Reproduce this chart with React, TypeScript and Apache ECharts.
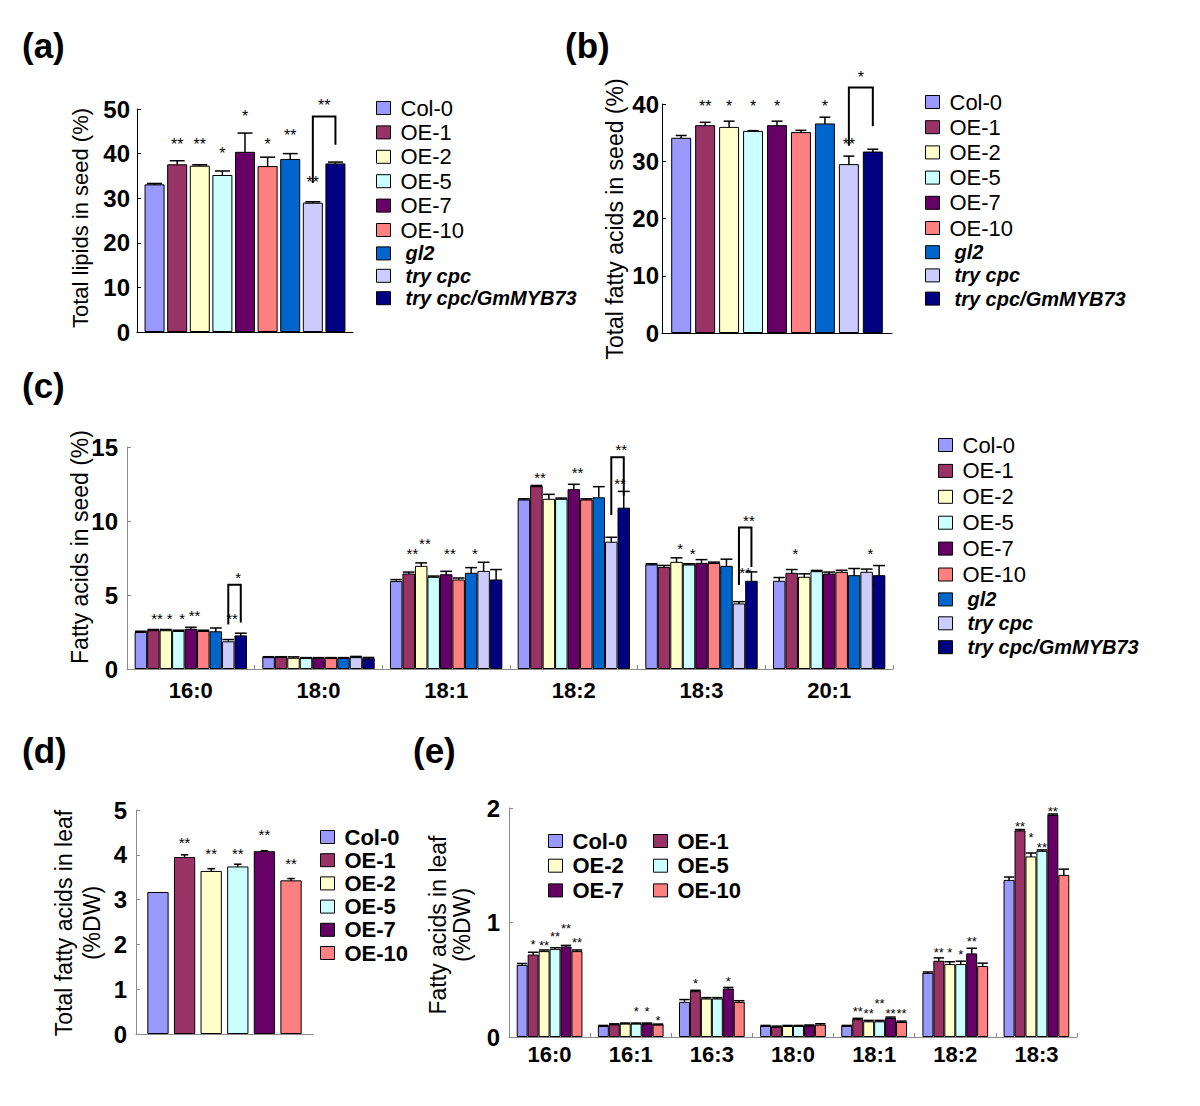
import React, { useEffect, useRef } from 'react';
import * as echarts from 'echarts';

// ---------- data ----------
const seedGenotypes = ['Col-0', 'OE-1', 'OE-2', 'OE-5', 'OE-7', 'OE-10', 'gl2', 'try cpc', 'try cpc/GmMYB73'];
const leafGenotypes = ['Col-0', 'OE-1', 'OE-2', 'OE-5', 'OE-7', 'OE-10'];
const genotypeColors = ['#9999FF', '#993366', '#FFFFCC', '#CCFFFF', '#660066', '#FF8080', '#0066CC', '#CCCCFF', '#000080'];
const italicNames = ['gl2', 'try cpc', 'try cpc/GmMYB73'];

// (a) total lipids in seed (%)
const lipidValues = [33.1, 37.6, 37.3, 35.2, 40.4, 37.2, 38.8, 29.0, 37.8];
const lipidErrors = [0.2, 0.8, 0.2, 0.9, 4.2, 2.0, 1.2, 0.2, 0.3];
// [seriesIndex, y, mark]
const lipidStars: [number, number, string][] = [[1, 42.9, '**'], [2, 42.9, '**'], [3, 40.9, '*'], [4, 49.3, '*'], [5, 42.9, '*'], [6, 45.0, '**'], [7, 34.5, '**'], [7.5, 51.7, '**']];
// [left series, right series, left bottom, top, right bottom]
const lipidBracket = [7, 8, 33.4, 48.3, 42.0];

// (b) total fatty acids in seed (%)
const seedFaTotal = [34.1, 36.3, 36.0, 35.3, 36.3, 35.1, 36.6, 29.5, 31.7];
const seedFaTotalErr = [0.4, 0.5, 1.0, 0.05, 0.7, 0.3, 1.1, 1.4, 0.4];
const seedFaTotalStars: [number, number, string][] = [[1, 40.3, '**'], [2, 40.3, '*'], [3, 40.3, '*'], [4, 40.3, '*'], [6, 40.3, '*'], [7, 33.6, '**'], [7.5, 45.4, '*']];
const seedFaTotalBracket = [7, 8, 32.7, 42.9, 36.1];

// (c) fatty acids in seed (%)
const seedFaCategories = ['16:0', '18:0', '18:1', '18:2', '18:3', '20:1'];
const seedFaCol0 = [2.5, 0.8, 5.94, 11.45, 7.06, 5.96];
const seedFaOE1 = [2.62, 0.8, 6.45, 12.35, 6.9, 6.5];
const seedFaOE2 = [2.62, 0.76, 6.97, 11.5, 7.24, 6.23];
const seedFaOE5 = [2.57, 0.74, 6.23, 11.5, 7.06, 6.61];
const seedFaOE7 = [2.72, 0.74, 6.4, 12.15, 7.17, 6.45];
const seedFaOE10 = [2.57, 0.74, 6.05, 11.45, 7.17, 6.57];
const seedFaGl2 = [2.55, 0.74, 6.5, 11.6, 6.97, 6.34];
const seedFaTryCpc = [1.87, 0.8, 6.63, 8.6, 4.43, 6.57];
const seedFaGmMYB73 = [2.27, 0.72, 6.05, 10.9, 5.96, 6.34];
const seedFaErrCol0 = [0.05, 0.03, 0.1, 0.05, 0.05, 0.22];
const seedFaErrOE1 = [0.05, 0.03, 0.1, 0.05, 0.1, 0.22];
const seedFaErrOE2 = [0.05, 0.06, 0.2, 0.3, 0.27, 0.2];
const seedFaErrOE5 = [0.05, 0.03, 0.05, 0.05, 0.05, 0.05];
const seedFaErrOE7 = [0.1, 0.03, 0.2, 0.33, 0.22, 0.1];
const seedFaErrOE10 = [0.05, 0.03, 0.1, 0.05, 0.05, 0.1];
const seedFaErrGl2 = [0.22, 0.03, 0.35, 0.72, 0.45, 0.45];
const seedFaErrTryCpc = [0.12, 0.05, 0.58, 0.3, 0.12, 0.18];
const seedFaErrGmMYB73 = [0.15, 0.06, 0.67, 1.1, 0.6, 0.65];
// [category, series, y, mark]
const seedFaStars: [number, number, number, string][] = [
  [0, 1, 3.64, '**'], [0, 2, 3.64, '*'], [0, 3, 3.64, '*'], [0, 4, 3.85, '**'], [0, 7, 3.64, '**'], [0, 7.5, 6.45, '*'],
  [2, 1, 8.07, '**'], [2, 2, 8.7, '**'], [2, 4, 8.07, '**'], [2, 6, 8.07, '*'],
  [3, 1, 13.2, '**'], [3, 4, 13.5, '**'], [3, 7.4, 12.8, '**'], [3, 7.5, 15.1, '**'],
  [4, 2, 8.37, '*'], [4, 3, 8.03, '*'], [4, 7.2, 6.8, '**'], [4, 7.5, 10.28, '**'],
  [5, 1, 8.07, '*'], [5, 7, 8.07, '*'],
];
// [category, left series, right series, left bottom, top, right bottom]
const seedFaBrackets = [
  [0, 7, 8, 3.0, 5.7, 3.15],
  [3, 7, 8, 10.4, 14.3, 11.7],
  [4, 7, 8, 5.67, 9.56, 6.9],
];

// (d) total fatty acids in leaf (%DW)
const leafTotal = [3.17, 3.95, 3.64, 3.74, 4.08, 3.43];
const leafTotalErr = [0, 0.05, 0.05, 0.05, 0.01, 0.04];
const leafTotalStars: [number, number, string][] = [[1, 4.35, '**'], [2, 4.12, '**'], [3, 4.12, '**'], [4, 4.54, '**'], [5, 3.9, '**']];

// (e) fatty acids in leaf (%DW)
const leafFaCategories = ['16:0', '16:1', '16:3', '18:0', '18:1', '18:2', '18:3'];
const leafFaCol0 = [0.63, 0.096, 0.307, 0.096, 0.096, 0.56, 1.372];
const leafFaOE1 = [0.72, 0.11, 0.40, 0.09, 0.155, 0.666, 1.804];
const leafFaOE2 = [0.75, 0.117, 0.336, 0.096, 0.137, 0.637, 1.577];
const leafFaOE5 = [0.77, 0.117, 0.336, 0.096, 0.137, 0.637, 1.626];
const leafFaOE7 = [0.79, 0.117, 0.423, 0.10, 0.166, 0.73, 1.94];
const leafFaOE10 = [0.75, 0.108, 0.307, 0.108, 0.131, 0.62, 1.416];
const leafFaErrCol0 = [0.012, 0.005, 0.02, 0.005, 0.005, 0.008, 0.025];
const leafFaErrOE1 = [0.02, 0.005, 0.008, 0.005, 0.008, 0.025, 0.008];
const leafFaErrOE2 = [0.01, 0.005, 0.008, 0.005, 0.008, 0.02, 0.03];
const leafFaErrOE5 = [0.01, 0.005, 0.008, 0.005, 0.008, 0.025, 0.008];
const leafFaErrOE7 = [0.01, 0.005, 0.01, 0.005, 0.008, 0.045, 0.008];
const leafFaErrOE10 = [0.01, 0.005, 0.01, 0.008, 0.008, 0.025, 0.05];
const leafFaStars: [number, number, number, string][] = [
  [0, 1, 0.84, '*'], [0, 2, 0.83, '**'], [0, 3, 0.905, '**'], [0, 4, 0.98, '**'], [0, 5, 0.85, '**'],
  [1, 3, 0.25, '*'], [1, 4, 0.25, '*'], [1, 5, 0.17, '*'],
  [2, 1, 0.5, '*'], [2, 4, 0.51, '*'],
  [4, 1, 0.25, '**'], [4, 2, 0.23, '**'], [4, 3, 0.32, '**'], [4, 4, 0.23, '**'], [4, 5, 0.23, '**'],
  [5, 1, 0.77, '**'], [5, 2, 0.77, '*'], [5, 3, 0.75, '*'], [5, 4, 0.86, '**'],
  [6, 1, 1.87, '**'], [6, 2, 1.77, '*'], [6, 3, 1.68, '**'], [6, 4, 2.0, '**'],
];

const seedFaRows = [seedFaCol0, seedFaOE1, seedFaOE2, seedFaOE5, seedFaOE7, seedFaOE10, seedFaGl2, seedFaTryCpc, seedFaGmMYB73];
const seedFaErrRows = [seedFaErrCol0, seedFaErrOE1, seedFaErrOE2, seedFaErrOE5, seedFaErrOE7, seedFaErrOE10, seedFaErrGl2, seedFaErrTryCpc, seedFaErrGmMYB73];
const leafFaRows = [leafFaCol0, leafFaOE1, leafFaOE2, leafFaOE5, leafFaOE7, leafFaOE10];
const leafFaErrRows = [leafFaErrCol0, leafFaErrOE1, leafFaErrOE2, leafFaErrOE5, leafFaErrOE7, leafFaErrOE10];

// ---------- styling ----------
const NARROW = "'Liberation Sans', Arial, sans-serif";
const SANS = "'Liberation Sans', Arial, sans-serif";

type PanelCfg = { idx: number; n: number; catGap: number; barGap: number; cap: number; starSize: number; starShift: number; bracketW: number };

const barX = (cx: number, band: number, cfg: PanelCfg, i: number) => {
  const usable = band * (1 - cfg.catGap);
  const w = usable / (cfg.n + (cfg.n - 1) * cfg.barGap);
  return { x: cx - usable / 2 + i * w * (1 + cfg.barGap) + w / 2, w };
};

function barSeries(cfg: PanelCfg, names: string[], rows: number[][]) {
  return names.map((name, i) => ({
    type: 'bar',
    name,
    xAxisIndex: cfg.idx,
    yAxisIndex: cfg.idx,
    data: rows[i],
    barGap: `${cfg.barGap * 100}%`,
    barCategoryGap: `${cfg.catGap * 100}%`,
    itemStyle: { color: genotypeColors[i], borderColor: '#000', borderWidth: 1 },
    emphasis: { disabled: true },
    silent: true,
  }));
}

function errorSeries(cfg: PanelCfg, rows: number[][], errs: number[][]) {
  const data: number[][] = [];
  rows.forEach((row, i) => row.forEach((v, c) => {
    const e = errs[i][c];
    if (e > 0) data.push([c, i, v - e, v + e]);
  }));
  return {
    type: 'custom',
    xAxisIndex: cfg.idx,
    yAxisIndex: cfg.idx,
    clip: false,
    silent: true,
    encode: { x: 0, y: [2, 3] },
    data,
    renderItem: (params: any, api: any) => {
      const c = api.value(0), i = api.value(1);
      const lo = api.coord([c, api.value(2)]);
      const hi = api.coord([c, api.value(3)]);
      const band = api.size([1, 0])[0];
      const { x, w } = barX(lo[0], band, cfg, i);
      const h = (w * cfg.cap) / 2;
      const st = { stroke: '#000', lineWidth: 1.5 };
      return {
        type: 'group',
        children: [
          { type: 'line', shape: { x1: x, y1: lo[1], x2: x, y2: hi[1] }, style: st },
          { type: 'line', shape: { x1: x - h, y1: hi[1], x2: x + h, y2: hi[1] }, style: st },
          { type: 'line', shape: { x1: x - h, y1: lo[1], x2: x + h, y2: lo[1] }, style: st },
        ],
      };
    },
  };
}

function starSeries(cfg: PanelCfg, stars: [number, number, number, string][]) {
  return {
    type: 'custom',
    xAxisIndex: cfg.idx,
    yAxisIndex: cfg.idx,
    clip: false,
    silent: true,
    encode: { x: 0, y: 2 },
    data: stars.map((s) => [s[0], s[1], s[2]]),
    renderItem: (params: any, api: any) => {
      const c = api.value(0), i = api.value(1);
      const p = api.coord([c, api.value(2)]);
      const band = api.size([1, 0])[0];
      const { x, w } = barX(p[0], band, cfg, i);
      return {
        type: 'text',
        x: x + cfg.starShift * w,
        y: p[1] + cfg.starSize * 0.25,
        style: {
          text: stars[params.dataIndex][3],
          fill: '#000',
          fontSize: cfg.starSize,
          fontFamily: SANS,
          align: 'center',
          verticalAlign: 'middle',
        },
      };
    },
  };
}

function bracketSeries(cfg: PanelCfg, brackets: number[][]) {
  return {
    type: 'custom',
    xAxisIndex: cfg.idx,
    yAxisIndex: cfg.idx,
    clip: false,
    silent: true,
    encode: { x: 0, y: 4 },
    data: brackets,
    renderItem: (params: any, api: any) => {
      const c = api.value(0);
      const band = api.size([1, 0])[0];
      const pl = api.coord([c, api.value(3)]);
      const pt = api.coord([c, api.value(4)]);
      const pr = api.coord([c, api.value(5)]);
      const xl = barX(pl[0], band, cfg, api.value(1)).x;
      const xr = barX(pl[0], band, cfg, api.value(2)).x;
      return {
        type: 'polyline',
        shape: { points: [[xl, pl[1]], [xl, pt[1]], [xr, pt[1]], [xr, pr[1]]] },
        style: { stroke: '#000', lineWidth: cfg.bracketW, fill: 'none' },
      };
    },
  };
}

const cfgA: PanelCfg = { idx: 0, n: 9, catGap: 0.07, barGap: 0.13, cap: 0.75, starSize: 16, starShift: 0, bracketW: 2 };
const cfgB: PanelCfg = { idx: 1, n: 9, catGap: 0.08, barGap: 0.2, cap: 0.55, starSize: 16, starShift: 0, bracketW: 2 };
const cfgC: PanelCfg = { idx: 2, n: 9, catGap: 0.12, barGap: 0, cap: 0.95, starSize: 15, starShift: 0.3, bracketW: 2 };
const cfgD: PanelCfg = { idx: 3, n: 6, catGap: 0.128, barGap: 0.25, cap: 0.35, starSize: 15, starShift: 0, bracketW: 2 };
const cfgE: PanelCfg = { idx: 4, n: 6, catGap: 0.19, barGap: 0, cap: 0.95, starSize: 13, starShift: 0, bracketW: 2 };

const single = (vals: number[]) => vals.map((v) => [v]);
const withCat = (s: [number, number, string][]) => s.map((x) => [0, x[0], x[1], x[2]] as [number, number, number, string]);

function legend(names: string[], left: number, top: number, gap: number, size: number, bold: boolean) {
  return {
    data: names,
    orient: 'vertical',
    left,
    top,
    itemWidth: 14,
    itemHeight: 13,
    itemGap: gap,
    icon: 'rect',
    selectedMode: false,
    padding: 0,
    itemStyle: { borderColor: '#000', borderWidth: 1 },
    formatter: (name: string) => (italicNames.includes(name) ? `{i|${name}}` : name),
    textStyle: {
      fontSize: size,
      fontFamily: NARROW,
      fontWeight: bold ? 'bold' : 'normal',
      color: '#000',
      padding: [0, 0, 0, 5],
      rich: { i: { fontSize: size - 2, fontFamily: NARROW, fontStyle: 'italic', fontWeight: 'bold', color: '#000', padding: [0, 0, 0, 5] } },
    },
  };
}

function yAxis(idx: number, max: number, interval: number, color: string, size: number, margin: number) {
  return {
    type: 'value',
    gridIndex: idx,
    min: 0,
    max,
    interval,
    splitLine: { show: false },
    axisLine: { show: true, lineStyle: { color, width: 1 } },
    axisTick: { show: true, inside: true, length: 4, lineStyle: { color } },
    axisLabel: { fontSize: size, fontWeight: 'bold', fontFamily: NARROW, color: '#000', margin },
  };
}

function xAxisSingle(idx: number, color: string) {
  return {
    type: 'category',
    gridIndex: idx,
    data: [''],
    axisLine: { show: true, lineStyle: { color, width: 1 } },
    axisTick: { show: false },
    axisLabel: { show: false },
  };
}

function xAxisCats(idx: number, cats: string[], color: string, size: number, margin: number) {
  return {
    type: 'category',
    gridIndex: idx,
    data: cats,
    axisLine: { show: true, lineStyle: { color, width: 1 } },
    axisTick: { show: true, inside: true, length: 4, lineStyle: { color } },
    axisLabel: { fontSize: size, fontWeight: 'bold', fontFamily: NARROW, color: '#000', margin },
  };
}

function vTitle(text: string, x: number, y: number, size: number) {
  return {
    type: 'text',
    x,
    y,
    rotation: Math.PI / 2,
    style: { text, fontSize: size, fontFamily: NARROW, fill: '#000', align: 'center', verticalAlign: 'middle' },
  };
}

function letter(text: string, x: number, y: number) {
  return {
    type: 'text',
    x,
    y,
    style: { text, fontSize: 35, fontWeight: 'bold', fontFamily: SANS, fill: '#000', align: 'left', verticalAlign: 'middle' },
  };
}

export default function App() {
  const ref = useRef<HTMLDivElement>(null);
  useEffect(() => {
    document.body.style.margin = '0';
    if (!ref.current) return;
    const chart = echarts.init(ref.current, undefined, { renderer: 'svg' });
    const grey = '#8c8c8c';
    const option: any = {
      animation: false,
      backgroundColor: '#fff',
      grid: [
        { left: 137, top: 109, width: 216, height: 223 },
        { left: 662, top: 104, width: 230, height: 229 },
        { left: 127, top: 447, width: 766, height: 222 },
        { left: 136, top: 810, width: 177, height: 224 },
        { left: 509, top: 808, width: 568, height: 229 },
      ],
      xAxis: [
        xAxisSingle(0, '#000'),
        xAxisSingle(1, '#000'),
        xAxisCats(2, seedFaCategories, grey, 22, 10),
        xAxisSingle(3, grey),
        xAxisCats(4, leafFaCategories, grey, 22, 6),
      ],
      yAxis: [
        yAxis(0, 50, 10, '#000', 24, 7),
        yAxis(1, 40, 10, '#000', 24, 3),
        yAxis(2, 15, 5, grey, 24, 9),
        yAxis(3, 5, 1, grey, 24, 9),
        yAxis(4, 2, 1, grey, 24, 9),
      ],
      legend: [
        legend(seedGenotypes, 376, 97, 2.4, 22, false),
        legend(seedGenotypes, 925, 91, 3.2, 22, false),
        legend(seedGenotypes, 938, 434, 3.9, 22, false),
        legend(leafGenotypes, 320, 826, 1.2, 22, true),
        legend(['Col-0', 'OE-2', 'OE-7'], 548, 830, 2.7, 22, true),
        legend(['OE-1', 'OE-5', 'OE-10'], 653, 830, 2.7, 22, true),
      ],
      graphic: [
        letter('(a)', 22, 45),
        letter('(b)', 565, 45),
        letter('(c)', 22, 385),
        letter('(d)', 22, 750),
        letter('(e)', 413, 750),
        vTitle('Total lipids in seed (%)', 80, 218, 22),
        vTitle('Total fatty acids in seed (%)', 615, 219, 23),
        vTitle('Fatty acids in seed (%)', 80, 547, 23),
        vTitle('Total fatty acids in leaf', 64, 923, 23),
        vTitle('(%DW)', 92, 923, 23),
        vTitle('Fatty acids in leaf', 438, 925, 23),
        vTitle('(%DW)', 462, 925, 23),
      ],
      series: [
        ...barSeries(cfgA, seedGenotypes, single(lipidValues)),
        errorSeries(cfgA, single(lipidValues), single(lipidErrors)),
        bracketSeries(cfgA, [[0, ...lipidBracket]]),
        starSeries(cfgA, withCat(lipidStars)),

        ...barSeries(cfgB, seedGenotypes, single(seedFaTotal)),
        errorSeries(cfgB, single(seedFaTotal), single(seedFaTotalErr)),
        bracketSeries(cfgB, [[0, ...seedFaTotalBracket]]),
        starSeries(cfgB, withCat(seedFaTotalStars)),

        ...barSeries(cfgC, seedGenotypes, seedFaRows),
        errorSeries(cfgC, seedFaRows, seedFaErrRows),
        bracketSeries(cfgC, seedFaBrackets),
        starSeries(cfgC, seedFaStars),

        ...barSeries(cfgD, leafGenotypes, single(leafTotal)),
        errorSeries(cfgD, single(leafTotal), single(leafTotalErr)),
        starSeries(cfgD, withCat(leafTotalStars)),

        ...barSeries(cfgE, leafGenotypes, leafFaRows),
        errorSeries(cfgE, leafFaRows, leafFaErrRows),
        starSeries(cfgE, leafFaStars),
      ],
    };
    chart.setOption(option);
    return () => chart.dispose();
  }, []);
  return <div ref={ref} style={{ width: 1200, height: 1106 }} />;
}
